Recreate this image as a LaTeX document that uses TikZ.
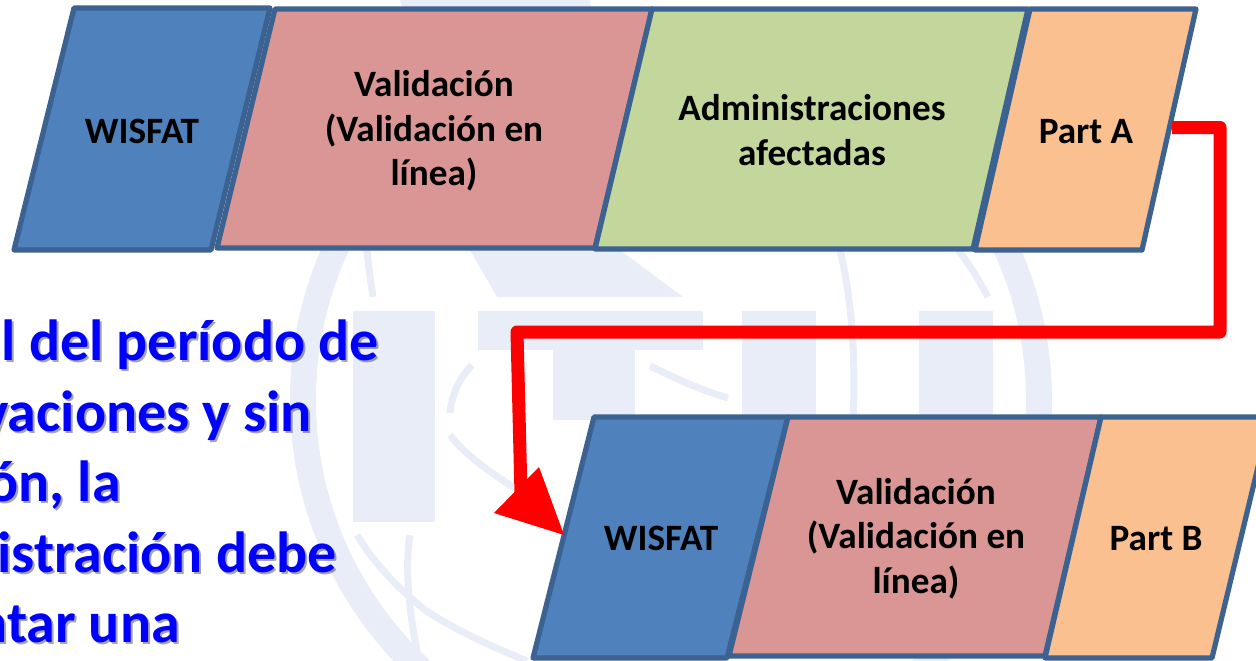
\documentclass[tikz,border=0pt]{standalone}
\usepackage{fontspec}
\setmainfont{Carlito}
\definecolor{wm}{HTML}{E8EDF7}
\definecolor{edgeblue}{HTML}{3B6291}
\definecolor{cblue}{HTML}{4F81BD}
\definecolor{cpink}{HTML}{D99694}
\definecolor{cgreen}{HTML}{C3D69B}
\definecolor{corange}{HTML}{FAC090}
\definecolor{txtblue}{HTML}{0000FF}
\tikzset{
  x=1pt,y=-1pt,
  plate/.style={draw=edgeblue,line width=5.2pt,line join=round},
  lbl/.style={font=\fontsize{37.2}{44.5}\selectfont\bfseries,align=center,text=black,inner sep=0pt},
  big/.style={font=\fontsize{58}{58}\selectfont\bfseries,text=txtblue,anchor=base east,inner sep=0pt},
  bigsh/.style={font=\fontsize{58}{58}\selectfont\bfseries,text=black,opacity=.35,anchor=base east,inner sep=0pt},
  wmthick/.style={draw=wm,line width=26pt},
  wmthin/.style={draw=wm,line width=7pt},
  link/.style={draw=red,line width=13pt,line join=round}
}
\begin{document}
\begin{tikzpicture}
\useasboundingbox (0,0) rectangle (1256,661);
\clip (0,0) rectangle (1256,661);
% watermark
\draw[wmthick] (671,400) circle[radius=368];
\fill[wm] (353,311) rectangle (435,522);
\fill[wm] (478,311) rectangle (703,350);
\fill[wm] (553,350) rectangle (635,420);
\fill[wm] (742,311) rectangle (816,420);
\fill[wm] (919,311) rectangle (993,420);
\fill[wm] (497,297) -- (683,297) -- (620,250) -- (590,0) -- (400,0) -- (470,250) -- cycle;
\draw[wmthin] (367,250) .. controls (369,270) .. (373,297);
\draw[wmthin] (840,250) .. controls (852,300) and (856,360) .. (853,420);
\draw[wmthin] (958,250) .. controls (970,265) and (980,282) .. (988,297);
\draw[wmthin] (472,365) .. controls (460,378) and (452,392) .. (450,413);
\draw[wmthin] (450,435) .. controls (465,455) and (490,472) .. (513,487);
\draw[wmthin] (650,366) .. controls (675,378) and (700,390) .. (728,398);
\draw[wmthin] (357,535) .. controls (375,565) and (400,590) .. (425,610) .. controls (455,630) and (495,648) .. (527,661);
\draw[wmthin] (410,535) .. controls (405,565) and (408,610) .. (419,661);
% left text
\node[bigsh] at (381,362) {l del período de};
\node[bigsh] at (314,433) {vaciones y sin};
\node[bigsh] at (123,503) {ón, la};
\node[bigsh] at (339,574) {istración debe};
\node[bigsh] at (182,644) {ntar una};
\node[big] (t1) at (379,360) {l del período de};
\node[big] (t2) at (312,431) {vaciones y sin};
\node[big] (t3) at (121,501) {ón, la};
\node[big] (t4) at (337,572) {istración debe};
\node[big] (t5) at (180,642) {ntar una};
% top row
\draw[plate,fill=cblue] (74,8) -- (270,8) -- (211,250) -- (14,250) -- cycle;
\draw[plate,fill=cpink] (275,9) -- (652,9) -- (595,248) -- (217,248) -- cycle;
\draw[plate,fill=cgreen] (652,9) -- (1028,9) -- (973,249) -- (595,249) -- cycle;
\draw[plate,fill=corange] (1030,9) -- (1196,9) -- (1142,250) -- (975,250) -- cycle;
\node[lbl] (a1) at (142,131) {WISFAT};
\node[lbl] (a2) at (434,131) {Validación\\(Validación en\\línea)};
\node[lbl] (a3) at (812,130) {Administraciones\\afectadas};
\node[lbl] (a4) at (1086,131.5) {Part A};
% bottom row
\draw[plate,fill=cblue] (594,417) -- (788,417) -- (727,658) -- (533,658) -- cycle;
\draw[plate,fill=cpink] (788,417) -- (1101,417) -- (1045,656) -- (729,656) -- cycle;
\draw[plate,fill=corange] (1101,417) -- (1270,417) -- (1212,658) -- (1045,658) -- cycle;
\node[lbl] (b1) at (661,538) {WISFAT};
\node[lbl] (b2) at (916,538.5) {Validación\\(Validación en\\línea)};
\node[lbl] (b3) at (1156,538.5) {Part B};
% connector
\coordinate (start) at (1172,127.5);
\coordinate (c1) at (1220,127.5);
\coordinate (c2) at (1220,332);
\coordinate (c3) at (517,332);
\coordinate (c4) at (521,494);
\coordinate (h1) at (539,467);
\coordinate (h2) at (494,513);
\coordinate (h3) at (564,535);
\draw[link] (start) -- (c1) -- (c2) -- (c3) -- (c4);
\fill[red] (h1) -- (h2) -- (h3) -- cycle;
\end{tikzpicture}
\end{document}
